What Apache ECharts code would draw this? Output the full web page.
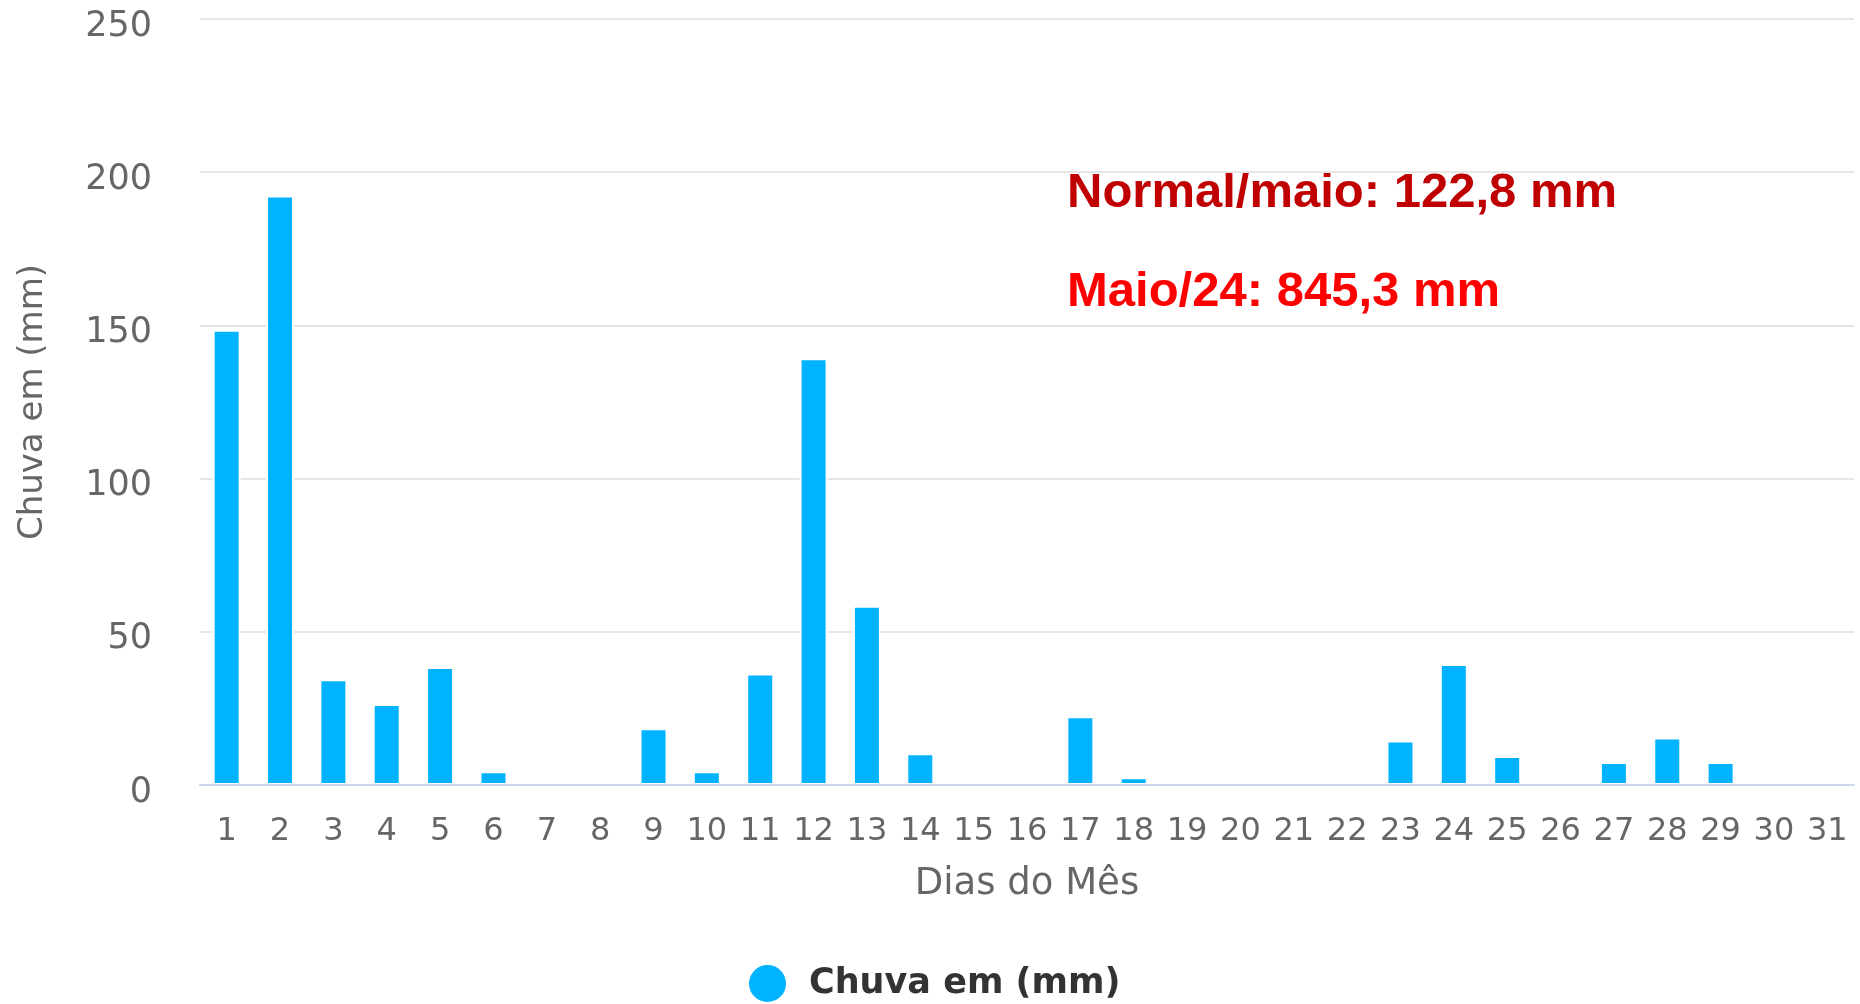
<!DOCTYPE html>
<html lang="pt-BR">
<head>
<meta charset="utf-8">
<title>Chuva em maio/24</title>
<script src="https://cdn.jsdelivr.net/npm/echarts@6/dist/echarts.min.js"></script>
<style>
  html, body {
    margin: 0;
    padding: 0;
    background: #ffffff;
  }
  #chart {
    width: 1860px;
    height: 1004px;
  }
</style>
</head>
<body>
<div id="chart"></div>
<script>
// dias do mês (eixo x)
const dias = ['1', '2', '3', '4', '5', '6', '7', '8', '9', '10', '11', '12', '13', '14', '15', '16',
  '17', '18', '19', '20', '21', '22', '23', '24', '25', '26', '27', '28', '29', '30', '31']

// chuva diária em mm
const chuva = [148.6, 192.4, 34.5, 26.4, 38.5, 4.5, 0, 0, 18.5, 4.5, 36.4, 139.3, 58.5, 10.4, 0, 0,
  22.4, 2.5, 0, 0, 0, 0, 14.5, 39.5, 9.5, 0, 7.5, 15.5, 7.5, 0, 0]

const yTicks = [0, 50, 100, 150, 200, 250]

const notaNormal = 'Normal/maio: 122,8 mm'
const notaMes = 'Maio/24: 845,3 mm'

const fonte = '"DejaVu Sans", "Open Sans", sans-serif'
const azul = '#00b3ff'

const chart = echarts.init(document.getElementById('chart'))

chart.setOption({
  backgroundColor: '#ffffff',
  animation: false,
  grid: {
    left: 200,
    right: 6,
    top: 19,
    bottom: 219,
  },
  legend: {
    data: ['Chuva em (mm)'],
    left: 747,
    top: 963,
    padding: 0,
    icon: 'circle',
    itemWidth: 39,
    itemHeight: 39,
    textStyle: {
      fontFamily: fonte,
      fontSize: 35,
      fontWeight: 'bold',
      color: '#333333',
      padding: [0, 0, 0, 17],
    },
  },
  xAxis: {
    type: 'category',
    data: dias,
    z: 3,
    name: 'Dias do Mês',
    nameLocation: 'middle',
    nameGap: 81,
    nameTextStyle: {
      fontFamily: fonte,
      fontSize: 37,
      color: '#666666',
    },
    axisLine: { lineStyle: { color: '#ccd6eb', width: 2 } },
    axisTick: { show: false },
    axisLabel: {
      interval: 0,
      margin: 31,
      fontFamily: fonte,
      fontSize: 32,
      color: '#666666',
    },
  },
  yAxis: {
    type: 'value',
    min: yTicks[0],
    max: yTicks[yTicks.length - 1],
    interval: 50,
    name: 'Chuva em (mm)',
    nameLocation: 'middle',
    nameGap: 150,
    nameTextStyle: {
      fontFamily: fonte,
      fontSize: 34,
      color: '#666666',
    },
    axisLine: { show: false },
    axisTick: { show: false },
    axisLabel: {
      margin: 48,
      verticalAlign: 'top',
      padding: [-10, 0, 0, 0],
      fontFamily: fonte,
      fontSize: 35,
      color: '#666666',
    },
    splitLine: { lineStyle: { color: '#e6e6e6', width: 2 } },
  },
  series: [
    {
      name: 'Chuva em (mm)',
      type: 'bar',
      data: chuva,
      barWidth: 28,
      itemStyle: {
        color: azul,
        borderColor: '#ffffff',
        borderWidth: 2,
      },
    },
  ],
  graphic: [
    {
      type: 'text',
      left: 1067,
      top: 169,
      style: {
        text: notaNormal,
        fontFamily: '"Liberation Sans", Arial, sans-serif',
        fontSize: 49,
        fontWeight: 'bold',
        fill: '#c00000',
      },
    },
    {
      type: 'text',
      left: 1067,
      top: 268,
      style: {
        text: notaMes,
        fontFamily: '"Liberation Sans", Arial, sans-serif',
        fontSize: 49,
        fontWeight: 'bold',
        fill: '#ff0000',
      },
    },
  ],
})
</script>
</body>
</html>
